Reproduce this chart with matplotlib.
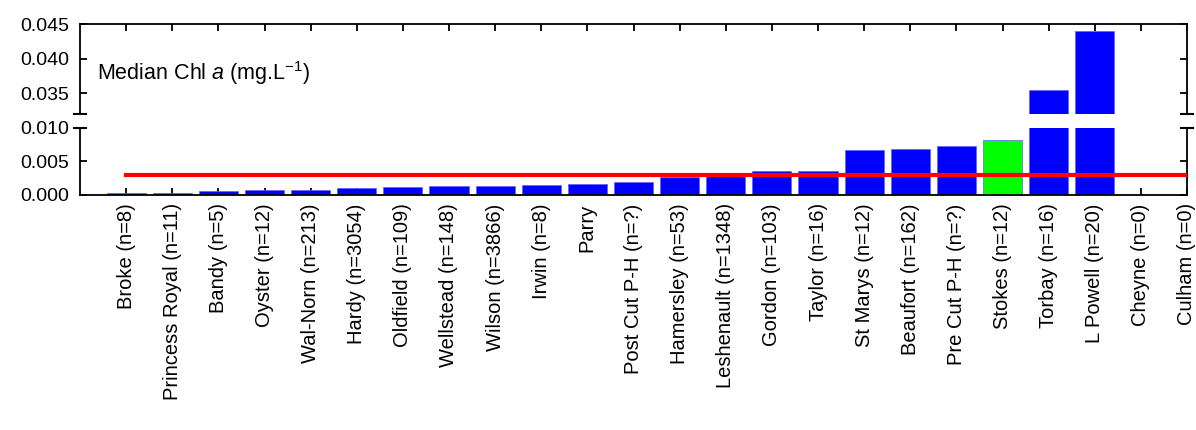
import matplotlib
matplotlib.use("Agg")
import matplotlib.pyplot as plt

categories = ["Broke (n=8)", "Princess Royal (n=11)", "Bandy (n=5)", "Oyster (n=12)", "Wal-Norn (n=213)",
              "Hardy (n=3054)", "Oldfield (n=109)", "Wellstead (n=148)", "Wilson (n=3866)", "Irwin (n=8)",
              "Parry", "Post Cut P-H (n=?)", "Hamersley (n=53)", "Leshenault (n=1348)", "Gordon (n=103)",
              "Taylor (n=16)", "St Marys (n=12)", "Beaufort (n=162)", "Pre Cut P-H (n=?)", "Stokes (n=12)",
              "Torbay (n=16)", "L Powell (n=20)", "Cheyne (n=0)", "Culham (n=0)"]
values = [0.0003, 0.0003, 0.0006, 0.0007, 0.0008, 0.0010, 0.0012, 0.0013, 0.0014, 0.0015,
          0.0017, 0.0019, 0.0027, 0.0028, 0.0036, 0.0036, 0.0067, 0.0068, 0.0073, 0.0082,
          0.0355, 0.0440, 0.0, 0.0]
highlight = "Stokes (n=12)"
threshold = 0.003

plt.rcParams['font.family'] = ['Liberation Sans', 'DejaVu Sans']
plt.rcParams['mathtext.fontset'] = 'custom'
plt.rcParams['mathtext.rm'] = 'Liberation Sans'
plt.rcParams['mathtext.it'] = 'Liberation Sans:italic'
fig = plt.figure(figsize=(11.96, 4.30), dpi=100)
L, R = 80/1196, 1187/1196
axu = fig.add_axes([L, 1-114/430, R-L, (114-24)/430])
axl = fig.add_axes([L, 1-195/430, R-L, (195-128)/430])
x = list(range(len(categories)))
colors = ["#00ff00" if c == highlight else "#0000ff" for c in categories]
for ax in (axu, axl):
    ax.bar(x, values, width=0.85, color=colors, edgecolor="#6060ff", linewidth=0.5, zorder=2)
    ax.plot([0, 23], [threshold, threshold], color="red", lw=3, zorder=3)
    ax.set_xlim(-1, 23)
    ax.set_xticks(x)
    ax.tick_params(direction="in", top=True, right=True, labelsize=14, length=5, width=1.3, pad=8)
    for s in ax.spines.values():
        s.set_linewidth(1.3)
axu.set_ylim(0.032, 0.045)
axu.set_yticks([0.035, 0.040, 0.045])
axu.set_yticklabels(["0.035", "0.040", "0.045"])
axu.spines['bottom'].set_visible(False)
axu.tick_params(bottom=False, labelbottom=False)
axl.set_ylim(0, 0.010)
axl.set_yticks([0.0, 0.005, 0.010])
axl.set_yticklabels(["0.000", "0.005", "0.010"])
axl.spines['top'].set_visible(False)
axl.tick_params(top=False)
axl.tick_params(axis='x', pad=6)
axl.set_xticklabels(categories, rotation=90, fontsize=14.5)
# break marks
for ax, yy in ((axu, 0), (axl, 1)):
    for xx in (0, 1):
        ax.plot([xx-0.005, xx+0.005], [yy, yy], transform=ax.transAxes, color="black", lw=1.5, clip_on=False)
axu.text(0.015, 0.45, r"Median Chl $\it{a}$ (mg.L$^{-1}$)", transform=axu.transAxes, fontsize=15.5, va="center")
fig.savefig("out.png", dpi=100)
